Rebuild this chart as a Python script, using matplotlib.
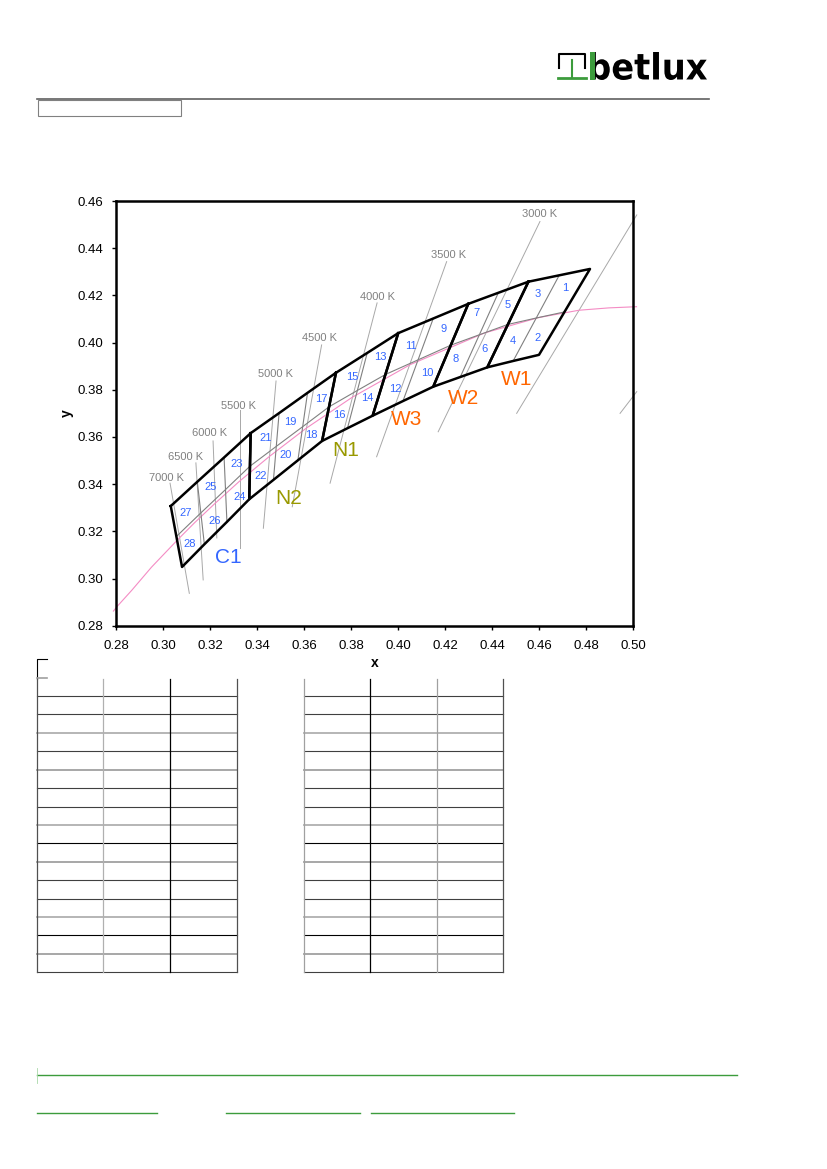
"""
Chromaticity bins on a CIE 1931 x,y chart, placed on a datasheet page.
"""
import matplotlib.pyplot as plt
from matplotlib.textpath import TextPath
from matplotlib.patches import PathPatch, Rectangle
from matplotlib.font_manager import FontProperties
from matplotlib.transforms import Affine2D
import numpy as np

plt.rcParams['font.family'] = ['Liberation Sans', 'DejaVu Sans']

W, H = 827, 1169

# band of bins: one point per column boundary, from C1 (left) to W1 (right)
top_x = [0.3033, 0.3146, 0.3260, 0.3373, 0.3494, 0.3615, 0.3736, 0.3869, 0.4001,
         0.4150, 0.4299, 0.4427, 0.4555, 0.4686, 0.4817]
top_y = [0.3307, 0.3410, 0.3513, 0.3616, 0.3701, 0.3787, 0.3872, 0.3956, 0.4040,
         0.4102, 0.4164, 0.4211, 0.4258, 0.4285, 0.4312]
mid_x = [0.3057, 0.3161, 0.3266, 0.3370, 0.3482, 0.3595, 0.3707, 0.3827, 0.3947,
         0.4086, 0.4225, 0.4346, 0.4468, 0.4588, 0.4709]
mid_y = [0.3178, 0.3278, 0.3377, 0.3476, 0.3560, 0.3644, 0.3728, 0.3797, 0.3865,
         0.3927, 0.3989, 0.4033, 0.4077, 0.4104, 0.4130]
bot_x = [0.3081, 0.3176, 0.3272, 0.3367, 0.3470, 0.3574, 0.3677, 0.3785, 0.3892,
         0.4021, 0.4150, 0.4265, 0.4380, 0.4490, 0.4600]
bot_y = [0.3049, 0.3145, 0.3240, 0.3336, 0.3418, 0.3501, 0.3583, 0.3637, 0.3690,
         0.3752, 0.3813, 0.3854, 0.3895, 0.3922, 0.3948]

bin_names = ['C1', 'N2', 'N1', 'W3', 'W2', 'W1']
bin_cols = [3, 3, 2, 2, 2, 2]
bin_label_x = [0.3277, 0.3536, 0.3779, 0.4038, 0.4277, 0.4506]
bin_label_y = [0.3087, 0.3337, 0.3541, 0.3672, 0.3765, 0.3842]
bin_colors = ['#3366ff', '#999900', '#999900', '#ff6600', '#ff6600', '#ff6600']

# sub-bin numbers 1..28
sub_x = [0.4711, 0.4596, 0.4596, 0.4489, 0.4468, 0.4370, 0.4336, 0.4247, 0.4196, 0.4123,
         0.4055, 0.3987, 0.3923, 0.3868, 0.3804, 0.3749, 0.3672, 0.3630, 0.3540, 0.3523,
         0.3438, 0.3417, 0.3315, 0.3328, 0.3204, 0.3221, 0.3098, 0.3115]
sub_y = [0.4232, 0.4020, 0.4206, 0.4007, 0.4160, 0.3973, 0.4126, 0.3931, 0.4058, 0.3872,
         0.3986, 0.3804, 0.3940, 0.3766, 0.3855, 0.3693, 0.3761, 0.3608, 0.3664, 0.3524,
         0.3596, 0.3435, 0.3486, 0.3346, 0.3388, 0.3244, 0.3278, 0.3146]

# planckian locus
planck_x = [0.2789, 0.2807, 0.2867, 0.2951, 0.3064, 0.3135, 0.3221, 0.3324, 0.3451,
            0.3608, 0.3805, 0.4053, 0.4369, 0.4599, 0.4770, 0.4897, 0.5015]
planck_y = [0.2862, 0.2884, 0.2950, 0.3048, 0.3166, 0.3237, 0.3318, 0.3411, 0.3516,
            0.3636, 0.3768, 0.3907, 0.4041, 0.4106, 0.4137, 0.4147, 0.4152]

# isotemperature lines: start (near label) and end
cct_labels = ['3000 K', '3500 K', '4000 K', '4500 K', '5000 K', '5500 K', '6000 K',
              '6500 K', '7000 K']
cct_x0 = [0.4604, 0.4207, 0.3911, 0.3675, 0.3481, 0.3328, 0.3213, 0.3140, 0.3030, 0.5016, 0.5016]
cct_y0 = [0.4513, 0.4343, 0.4168, 0.3990, 0.3837, 0.3714, 0.3583, 0.3490, 0.3404, 0.4541, 0.3792]
cct_x1 = [0.4171, 0.3909, 0.3711, 0.3550, 0.3427, 0.3328, 0.3229, 0.3171, 0.3112, 0.4505, 0.4945]
cct_y1 = [0.3622, 0.3516, 0.3404, 0.3304, 0.3213, 0.3129, 0.3172, 0.2994, 0.2937, 0.3700, 0.3700]
cct_lx = [0.4604, 0.4217, 0.3911, 0.3668, 0.3477, 0.3323, 0.3200, 0.3094, 0.3017]
cct_ly = [0.4522, 0.4348, 0.4170, 0.4000, 0.3847, 0.3711, 0.3597, 0.3495, 0.3406]

xticks = [0.28, 0.30, 0.32, 0.34, 0.36, 0.38, 0.40, 0.42, 0.44, 0.46, 0.48, 0.50]
yticks = [0.28, 0.30, 0.32, 0.34, 0.36, 0.38, 0.40, 0.42, 0.44, 0.46]

fig = plt.figure(figsize=(W / 100, H / 100), dpi=100)

# page decoration in pixel coordinates
bg = fig.add_axes([0, 0, 1, 1])
bg.set_xlim(0, W)
bg.set_ylim(H, 0)
bg.axis('off')

green = '#3c9c3c'
bg.plot([37, 709], [99, 99], color='#606060', lw=1.2)
bg.add_patch(Rectangle((38, 100), 143, 16, fc='none', ec='#808080', lw=0.8))

# logo
bg.plot([559, 559, 585, 585], [68, 54, 54, 68], color='black', lw=1.5)
bg.plot([572, 572], [60, 77], color=green, lw=1.5)
bg.plot([558, 586], [78, 78], color=green, lw=2)
prop = FontProperties(family='DejaVu Sans', weight='bold')
tp = TextPath((0, 0), 'betlux', size=10, prop=prop)
ext = tp.get_extents()
sx = (707 - 590) / ext.width
sy = (80 - 52) / ext.height
tr = Affine2D().translate(-ext.x0, -ext.y0).scale(sx, -sy).translate(590, 80) + bg.transData
bg.add_patch(PathPatch(tp, fc='black', ec='none', transform=tr))
bg.add_patch(Rectangle((590, 52), 5, 28, fc=green, ec='none'))

# bracket above the tables
bg.plot([46.7, 37.3, 37.3], [659.3, 659.3, 679], color='black', lw=0.8)
bg.plot([37.3, 46.7], [677.7, 677.7], color='#a0a0a0', lw=1.2)

# two empty tables
row_colors = ['#404040', '#404040', '#b0b0b0', '#404040', '#a0a0a0', '#404040', '#404040',
              '#b0b0b0', '#000000', '#a0a0a0', '#404040', '#404040', '#b0b0b0', '#000000',
              '#a0a0a0', '#404040']
tables = [([37.3, 103.3, 170.3, 237.3], ['#505050', '#b0b0b0', '#000000', '#505050']),
          ([303.7, 370.3, 437.0, 503.3], ['#a0a0a0', '#000000', '#a0a0a0', '#505050'])]
row_y = 696 + np.arange(16) * 18.42
for cols, vcolors in tables:
    for yy, c in zip(row_y, row_colors):
        bg.plot([cols[0], cols[-1]], [yy, yy], color=c,
                lw=1.3 if c in ('#a0a0a0', '#b0b0b0') else 0.8)
    for xx, c in zip(cols, vcolors):
        bg.plot([xx, xx], [679.3, row_y[-1]], color=c, lw=0.9)

# footer
bg.plot([37, 737], [1075, 1075], color=green, lw=1)
bg.plot([37, 37], [1068, 1083], color='#a8d8a8', lw=0.6)
for x0, x1 in [(37, 157), (226, 360), (371, 514)]:
    bg.plot([x0, x1], [1113, 1113], color=green, lw=1)

# chart
ax = fig.add_axes([116 / W, 1 - 625.7 / H, 517 / W, 424.7 / H])
ax.set_xlim(0.28, 0.50)
ax.set_ylim(0.28, 0.46)
ax.set_xticks(xticks)
ax.set_xticklabels([f'{v:.2f}' for v in xticks])
ax.set_yticks(yticks)
ax.set_yticklabels([f'{v:.2f}' for v in yticks])
ax.tick_params(direction='out', length=3, width=1, labelsize=9.5, color='black')
ax.tick_params(axis='x', pad=7)
ax.tick_params(axis='y', pad=6)
for s in ax.spines.values():
    s.set_linewidth(1.8)
ax.set_xlabel('x', fontweight='bold', fontsize=10, labelpad=3)
ax.set_ylabel('y', fontweight='bold', fontsize=10, labelpad=3)

ax.plot(planck_x, planck_y, color='#f48cc4', lw=0.8, clip_on=False, zorder=2)
for x0, y0, x1, y1 in zip(cct_x0, cct_y0, cct_x1, cct_y1):
    ax.plot([x0, x1], [y0, y1], color='#a8a8a8', lw=0.7, clip_on=False, zorder=1)
for lab, lx, ly in zip(cct_labels, cct_lx, cct_ly):
    ax.text(lx, ly, lab, color='#808080', fontsize=8, ha='center', va='bottom')

ax.plot(mid_x, mid_y, color='#808080', lw=0.8, zorder=3)
start = 0
for n in bin_cols:
    for k in range(start + 1, start + n):
        ax.plot([top_x[k], bot_x[k]], [top_y[k], bot_y[k]], color='#808080', lw=0.8, zorder=3)
    xs = top_x[start:start + n + 1] + bot_x[start:start + n + 1][::-1] + [top_x[start]]
    ys = top_y[start:start + n + 1] + bot_y[start:start + n + 1][::-1] + [top_y[start]]
    ax.plot(xs, ys, color='black', lw=1.8, zorder=4)
    start += n

for i, (sx_, sy_) in enumerate(zip(sub_x, sub_y)):
    ax.text(sx_, sy_, str(i + 1), color='#3366ff', fontsize=8, ha='center', va='center', zorder=5)
for name, lx, ly, c in zip(bin_names, bin_label_x, bin_label_y, bin_colors):
    ax.text(lx, ly, name, color=c, fontsize=15, ha='center', va='center', zorder=5)

fig.savefig('out.png', dpi=100)
